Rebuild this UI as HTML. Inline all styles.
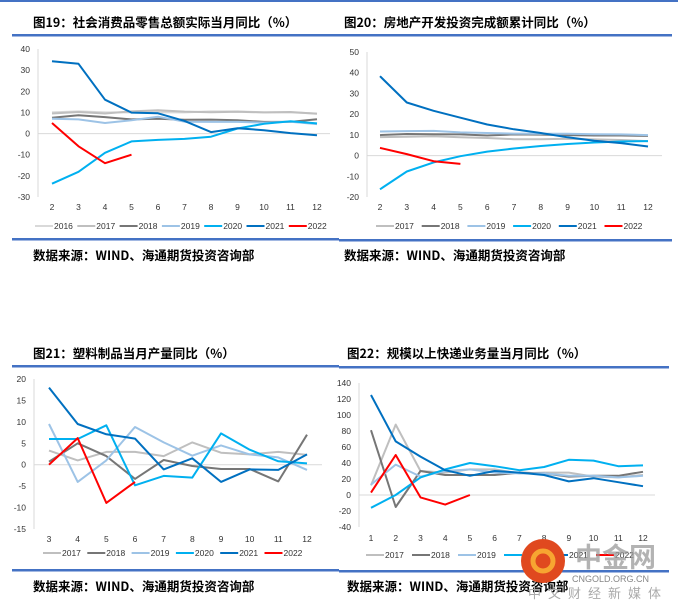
<!DOCTYPE html>
<html><head><meta charset="utf-8"><style>
body{margin:0;background:#fff;}
svg{display:block;font-family:"Liberation Sans","Noto Sans CJK SC",sans-serif;}
.t{font-family:"Noto Sans CJK SC","WenQuanYi Zen Hei",sans-serif;font-weight:bold;font-size:12.5px;fill:#000;}
.tk{font-size:8.5px;fill:#333;}
.lg{font-size:8.5px;fill:#333;}
</style></head><body>
<svg id="s" width="678" height="612" viewBox="0 0 678 612">
<rect x="0" y="0" width="678" height="2" fill="#4472c4"/>
</svg>
<script>
// ---------- data ----------
const p1Months=[2,3,4,5,6,7,8,9,10,11,12];
const p1Years=["2016","2017","2018","2019","2020","2021","2022"];
const p1_2016=[10,10.5,10,10,10,10,10.5,10.5,10,10,9.5];
const p1_2017=[9.5,10.2,9.5,10.5,11,10.4,10.1,10.3,10,10.2,9.4];
const p1_2018=[7.5,8.7,7.8,6.7,7,6.5,6.6,6.3,5.5,5.5,6.8];
const p1_2019=[7,6.7,5,6.3,8,5.6,5.5,5.5,5.2,5.6,4.5];
const p1_2020=[-23.7,-18.1,-9.1,-3.7,-3,-2.5,-1.5,2.4,4.6,5.8,4.8];
const p1_2021=[34.2,33,16,9.9,9.6,6,0.7,2.5,1.6,0.2,-0.8];
const p1_2022=[5,-6,-14,-10];
const p1Ticks=[40,30,20,10,0,-10,-20,-30];

const p2Months=[2,3,4,5,6,7,8,9,10,11,12];
const p2Years=["2017","2018","2019","2020","2021","2022"];
const p2_2017=[8.9,9.1,9.3,8.8,8.5,7.9,7.9,8.1,7.8,7.5,7];
const p2_2018=[9.9,10.4,10.3,10.2,9.7,10.2,10.1,9.9,9.7,9.7,9.5];
const p2_2019=[11.6,11.8,11.9,11.2,10.9,10.6,10.5,10.5,10.3,10.2,9.9];
const p2_2020=[-16.3,-7.7,-3.3,-0.3,1.9,3.4,4.6,5.6,6.3,6.8,7];
const p2_2021=[38.3,25.6,21.6,18.3,15,12.7,10.9,8.8,7.2,6,4.4];
const p2_2022=[3.7,0.7,-2.7,-4.0];
const p2Ticks=[50,40,30,20,10,0,-10,-20];

const p3Months=[3,4,5,6,7,8,9,10,11,12];
const p3Years=["2017","2018","2019","2020","2021","2022"];
const p3_2017=[3.3,1,3,3,2,5.2,2.8,2.4,3,2.3];
const p3_2018=[0.7,5,2,-3.3,1.1,-0.3,-1,-1,-3.9,7];
const p3_2019=[9.5,-4,1,8.8,5.2,2.1,4.5,2.4,1.7,-1.2];
const p3_2020=[6,6,9.2,-4.8,-2.6,-3,7.3,3.5,0.8,0.3];
const p3_2021=[18,9.5,7.1,6.1,-1.1,1.5,-4,-1.1,-1.2,2.4];
const p3_2022=[0,6.2,-8.9,-4];
const p3Ticks=[20,15,10,5,0,-5,-10,-15];

const p4Months=[1,2,3,4,5,6,7,8,9,10,11,12];
const p4Years=["2017","2018","2019","2020","2021","2022"];
const p4_2017=[12,88,30,28,32,32,27,28,28,23,22,25];
const p4_2018=[81,-15,30,25,25,25,28,27,23,24,24,29];
const p4_2019=[13,38,23,30,32,28,27,27,24,24,22,24];
const p4_2020=[-16,0,22,32,40,36,31,35,44,43,36,37];
const p4_2021=[125,67,48,31,24,30,28,25,17,21,16,11];
const p4_2022=[3,50,-3,-12,0];
const p4Ticks=[140,120,100,80,60,40,20,0,-20,-40];

const COLORS={"2016":"#d9d9d9","2017":"#bfbfbf","2018":"#767676","2019":"#9dc3e6","2020":"#00b0f0","2021":"#0070c0","2022":"#ff0000"};
const NS="http://www.w3.org/2000/svg";
const svg=document.getElementById('s');
function mk(tag,attrs,parent){const e=document.createElementNS(NS,tag);for(const k in attrs)e.setAttribute(k,attrs[k]);(parent||svg).appendChild(e);return e;}

function panel(cfg){
  const g=mk('g',{});
  
  
  const t=mk('text',{x:cfg.tx,y:cfg.ty,class:'t'},g);t.textContent=cfg.title;
  
  
  const l1=mk('rect',{x:cfg.lx1,y:cfg.ly1,width:cfg.lx2-cfg.lx1,height:2.5,fill:'#4472c4'},g);
  
  
  const l2=mk('rect',{x:cfg.lx1,y:cfg.ly2,width:cfg.lx2-cfg.lx1,height:2.5,fill:'#4472c4'},g);
  
  
  const src=mk('text',{x:cfg.tx,y:cfg.sy,class:'t'},g);src.textContent='数据来源：WIND、海通期货投资咨询部';
  
  
  const tmax=cfg.ticks[0],tmin=cfg.ticks[cfg.ticks.length-1];
  const yS=v=>cfg.yTop+(tmax-v)/(tmax-tmin)*(cfg.yBot-cfg.yTop);
  const xS=i=>cfg.x0+i*(cfg.x1-cfg.x0)/(cfg.months.length-1);
  const ya=mk('line',{x1:cfg.ax,y1:cfg.yTop,x2:cfg.ax,y2:cfg.yBot,stroke:'#d9d9d9','stroke-width':1},g);
  
  
  cfg.ticks.forEach(v=>{
    const tt=mk('text',{x:cfg.ax-8,y:yS(v)+3,class:'tk','text-anchor':'end'},g);tt.textContent=v;
    
    
  });
  const xa=mk('line',{x1:cfg.ax,y1:yS(0),x2:cfg.axEnd,y2:yS(0),stroke:'#d9d9d9','stroke-width':1},g);
  
  
  cfg.months.forEach((m,i)=>{
    const tt=mk('text',{x:xS(i),y:cfg.xly,class:'tk','text-anchor':'middle'},g);tt.textContent=m;
    
    
  });
  cfg.years.forEach((yr,k)=>{
    const d=cfg.series[k];
    const pts=d.map((v,i)=>xS(i).toFixed(1)+','+yS(v).toFixed(1)).join(' ');
    const pl=mk('polyline',{points:pts,fill:'none',stroke:COLORS[yr],'stroke-width':2,'stroke-linejoin':'round'},g);
    
    
    const lx=cfg.legX+k*cfg.legStep;
    const ll=mk('line',{x1:lx,y1:cfg.legY,x2:lx+18,y2:cfg.legY,stroke:COLORS[yr],'stroke-width':2},g);
    
    
    const lt=mk('text',{x:lx+19,y:cfg.legY+3,class:'lg'},g);lt.textContent=yr;
    
    
  });
}
panel({name:'chart-retail-sales',title:'图19：社会消费品零售总额实际当月同比（%）',tx:33,ty:27,lx1:12,lx2:339,ly1:34,ly2:238,sy:260,
  ticks:p1Ticks,yTop:49,yBot:197,ax:38,axEnd:330,x0:52,x1:317,xly:210,months:p1Months,years:p1Years,
  series:[p1_2016,p1_2017,p1_2018,p1_2019,p1_2020,p1_2021,p1_2022],legX:35,legStep:42.3,legY:226});
panel({name:'chart-real-estate',title:'图20：房地产开发投资完成额累计同比（%）',tx:344,ty:27,lx1:339,lx2:672,ly1:34,ly2:239,sy:260,
  ticks:p2Ticks,yTop:52,yBot:197,ax:367,axEnd:662,x0:380,x1:648,xly:210,months:p2Months,years:p2Years,
  series:[p2_2017,p2_2018,p2_2019,p2_2020,p2_2021,p2_2022],legX:376,legStep:45.7,legY:226});
panel({name:'chart-plastics',title:'图21：塑料制品当月产量同比（%）',tx:33,ty:358,lx1:12,lx2:339,ly1:365,ly2:569,sy:591,
  ticks:p3Ticks,yTop:379,yBot:529,ax:34,axEnd:322,x0:49,x1:307,xly:542,months:p3Months,years:p3Years,
  series:[p3_2017,p3_2018,p3_2019,p3_2020,p3_2021,p3_2022],legX:43,legStep:44.3,legY:553});
panel({name:'chart-express',title:'图22：规模以上快递业务量当月同比（%）',tx:347,ty:358,lx1:339,lx2:669,ly1:366,ly2:570,sy:591,
  ticks:p4Ticks,yTop:383,yBot:527,ax:359,axEnd:655,x0:371,x1:643,xly:541,months:p4Months,years:p4Years,
  series:[p4_2017,p4_2018,p4_2019,p4_2020,p4_2021,p4_2022],legX:366,legStep:46,legY:555});
// watermark
const wm=mk('g',{});


mk('circle',{cx:543,cy:561,r:22,fill:'#e0491f'},wm);
mk('circle',{cx:543,cy:561,r:10,fill:'none',stroke:'#f7a531','stroke-width':5},wm);
const w1=mk('text',{x:575,y:567,'font-size':27,'font-weight':'bold',fill:'#9a9a9a','fill-opacity':0.75,'font-family':'Noto Sans CJK SC,sans-serif'},wm);w1.textContent='中金网';
const w2=mk('text',{x:572,y:582,'font-size':9,fill:'#888'},wm);w2.textContent='CNGOLD.ORG.CN';
const w3=mk('text',{x:528,y:598,'font-size':13,fill:'#aaa','letter-spacing':'7','font-family':'Noto Sans CJK SC,sans-serif'},wm);w3.textContent='中文财经新媒体';
</script>
</body></html>
